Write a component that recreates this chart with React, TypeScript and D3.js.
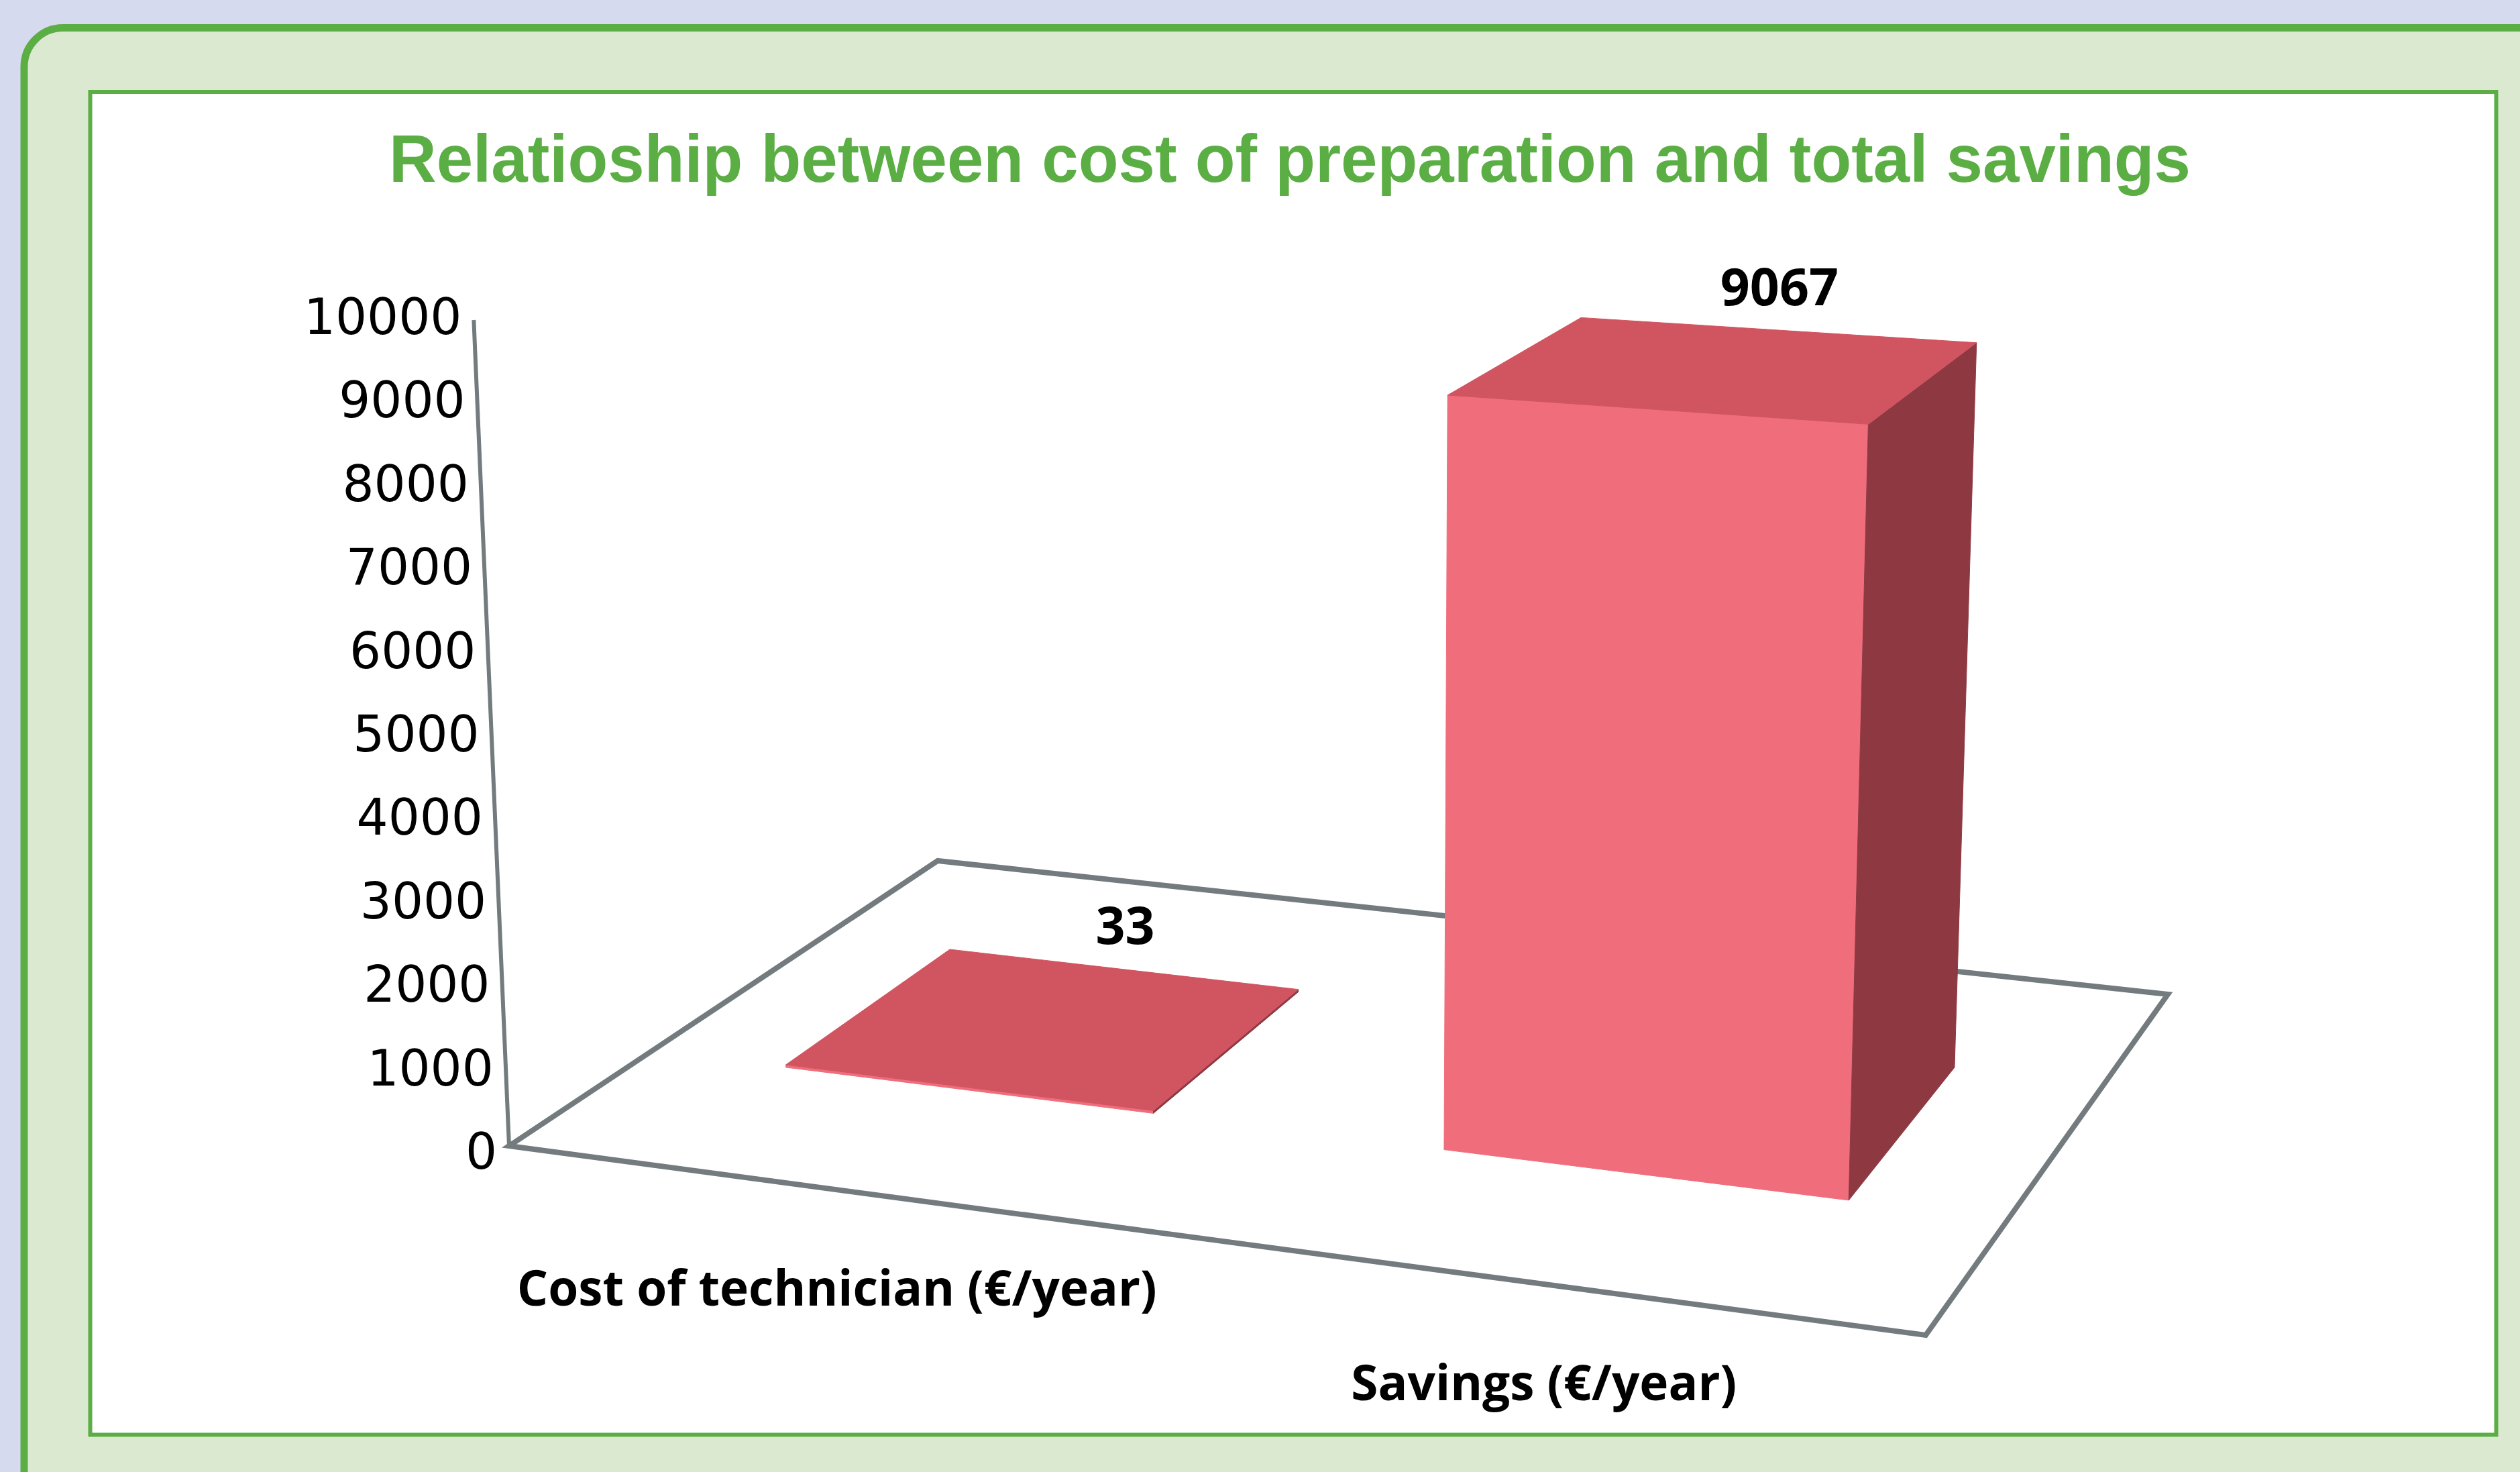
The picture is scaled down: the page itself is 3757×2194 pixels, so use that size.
import React from "react";
import * as d3 from "d3";

// ---------- data ----------
const TITLE = "Relatioship between cost of preparation and total savings";
const categories = ["Cost of technician (€/year)", "Savings (€/year)"];
const values = [33, 9067];
const valueLabels = ["33", "9067"];
const yTickValues = [0, 1000, 2000, 3000, 4000, 5000, 6000, 7000, 8000, 9000, 10000];
const Y_MAX = 10000;

// ---------- layout ----------
const W = 3757;
const H = 2194;
// floor quad in screen space: front-left, front-right, back-right, back-left
const FLOOR_FL: [number, number] = [759, 1708];
const FLOOR_FR: [number, number] = [2871, 1990];
const FLOOR_BR: [number, number] = [3232, 1482];
const FLOOR_BL: [number, number] = [1398, 1283];
const VANISH: [number, number] = [2017, 31112]; // vertical vanishing point
const AXIS_H = 1231;

const COLORS = {
  page: "#D5DAEE",
  panel: "#DBE9D0",
  green: "#5BAE44",
  grid: "#747B7E",
  front: "#F06E7B",
  top: "#D05560",
  side: "#8E3942",
};

function makeHomography(
  p0: [number, number],
  p1: [number, number],
  p2: [number, number],
  p3: [number, number]
) {
  const [x0, y0] = p0, [x1, y1] = p1, [x2, y2] = p2, [x3, y3] = p3;
  const dx1 = x1 - x2, dx2 = x3 - x2, dx3 = x0 - x1 + x2 - x3;
  const dy1 = y1 - y2, dy2 = y3 - y2, dy3 = y0 - y1 + y2 - y3;
  const det = dx1 * dy2 - dx2 * dy1;
  const g = (dx3 * dy2 - dx2 * dy3) / det;
  const h = (dx1 * dy3 - dx3 * dy1) / det;
  const a = x1 - x0 + g * x1;
  const b = x3 - x0 + h * x3;
  const c = x0;
  const d = y1 - y0 + g * y1;
  const e = y3 - y0 + h * y3;
  const f = y0;
  return (u: number, w: number) => {
    const D = g * u + h * w + 1;
    return { x: (a * u + b * w + c) / D, y: (d * u + e * w + f) / D, D };
  };
}

const floorAt = makeHomography(FLOOR_FL, FLOOR_FR, FLOOR_BR, FLOOR_BL);
const yScale = d3.scaleLinear().domain([0, Y_MAX]).range([0, AXIS_H]);
const xBand = d3.scaleBand<string>().domain(categories).range([0, 1]).paddingInner(0.43).paddingOuter(0.215);
const zBand = d3.scaleBand<string>().domain(["s"]).range([0, 1]).paddingOuter(0.75);

function lift(u: number, w: number, v: number): [number, number] {
  const p = floorAt(u, w);
  const hp = yScale(v) / p.D;
  const lean = (VANISH[0] - p.x) / (VANISH[1] - p.y);
  return [p.x - hp * lean, p.y - hp];
}

const line = d3.line<[number, number]>();
const poly = (pts: [number, number][]) => (line(pts) || "") + "Z";

export default function App() {
  const w0 = zBand("s")!;
  const w1 = w0 + zBand.bandwidth();

  const bars = categories.map((cat, i) => {
    const u0 = xBand(cat)!;
    const u1 = u0 + xBand.bandwidth();
    const v = values[i];
    const a = lift(u0, w0, 0), b = lift(u1, w0, 0), c = lift(u1, w1, 0);
    const a2 = lift(u0, w0, v), b2 = lift(u1, w0, v), c2 = lift(u1, w1, v), d2 = lift(u0, w1, v);
    const uc = (u0 + u1) / 2;
    const lab = lift(uc, w1, v);
    const catPt = floorAt(uc, 0);
    return { cat, i, a, b, c, a2, b2, c2, d2, lab, catPt };
  });

  const axisBottom = lift(0, 0, 0);
  const axisTop = lift(0, 0, Y_MAX);

  return (
    <div style={{ position: "absolute", left: 0, top: 0, width: W, height: H, overflow: "hidden" }}>
      <svg width={W} height={H} viewBox={`0 0 ${W} ${H}`} style={{ display: "block" }}>
        <rect x={0} y={0} width={W} height={H} fill={COLORS.page} />
        <rect x={36} y={41.5} width={3800} height={2300} rx={58} ry={58}
          fill={COLORS.panel} stroke={COLORS.green} strokeWidth={11} />
        <rect x={134.5} y={137} width={3587} height={2001.5}
          fill="#FFFFFF" stroke={COLORS.green} strokeWidth={6} />

        <text x={1923} y={271} textAnchor="middle" fill={COLORS.green}
          fontFamily="'Liberation Sans Narrow', 'Arial Narrow', 'Liberation Sans', Arial, sans-serif"
          fontWeight="bold" fontSize={101} textLength={2686} lengthAdjust="spacingAndGlyphs">
          {TITLE}
        </text>

        {/* floor */}
        <path d={poly([FLOOR_FL, FLOOR_FR, FLOOR_BR, FLOOR_BL])} fill="none"
          stroke={COLORS.grid} strokeWidth={8} strokeLinejoin="miter" />
        {/* value axis */}
        <line x1={axisBottom[0]} y1={axisBottom[1]} x2={axisTop[0]} y2={axisTop[1]}
          stroke={COLORS.grid} strokeWidth={6} />
        {yTickValues.map((t) => {
          const p = lift(0, 0, t);
          const dy = 8 - 13 * (t / Y_MAX);
          return (
            <text key={t} x={p[0] - 18} y={p[1] + dy} textAnchor="end" dominantBaseline="central"
              fontFamily="'DejaVu Sans', Verdana, sans-serif" fontSize={74} fill="#000">
              {t}
            </text>
          );
        })}

        {/* bars */}
        {bars.map((bb) => (
          <g key={bb.cat}>
            <path d={poly([bb.a, bb.b, bb.b2, bb.a2])} fill={COLORS.front} stroke={COLORS.front} strokeWidth={1} />
            <path d={poly([bb.b, bb.c, bb.c2, bb.b2])} fill={COLORS.side} stroke={COLORS.side} strokeWidth={1} />
            <path d={poly([bb.a2, bb.b2, bb.c2, bb.d2])} fill={COLORS.top} stroke={COLORS.top} strokeWidth={1} />
          </g>
        ))}

        {/* value labels */}
        {bars.map((bb) => (
          <text key={"v" + bb.cat} x={bb.lab[0] + 5} y={bb.lab[1] - 37} textAnchor="middle"
            fontFamily="'Open Sans', 'Noto Sans', sans-serif" fontWeight="bold" fontSize={77} fill="#000">
            {valueLabels[bb.i]}
          </text>
        ))}

        {/* category labels */}
        {bars.map((bb) => (
          <text key={"c" + bb.cat} x={bb.catPt.x} y={bb.catPt.y + 173} textAnchor="middle"
            fontFamily="'Open Sans', 'Noto Sans', sans-serif" fontWeight="bold" fontSize={74} fill="#000"
            textLength={bb.i === 0 ? 954 : 575} lengthAdjust="spacingAndGlyphs">
            {bb.cat}
          </text>
        ))}
      </svg>
    </div>
  );
}
